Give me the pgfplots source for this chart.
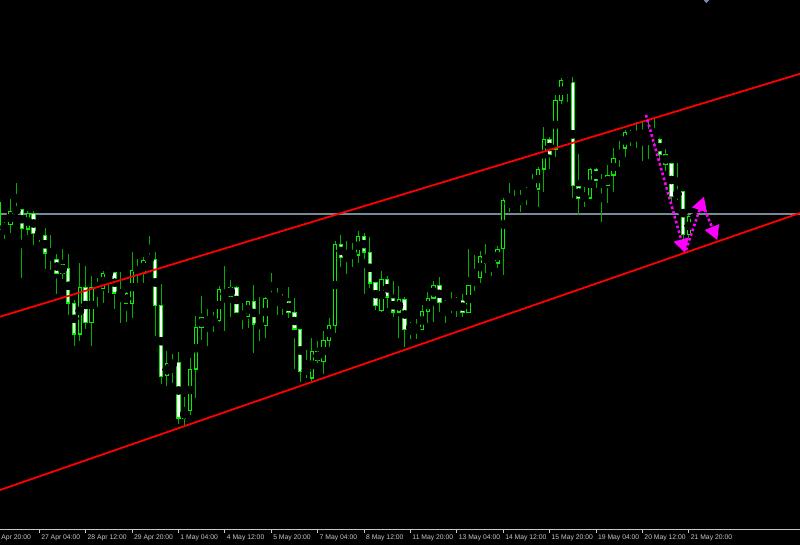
\documentclass[border=0pt]{standalone}
\usepackage{pgfplots}
\pgfplotsset{compat=1.18}
\usepackage{pgfplotstable}
\usepackage{fontspec}
\setmainfont{Liberation Sans}
\usetikzlibrary{arrows.meta}

\definecolor{wickgreen}{RGB}{0,175,0}
\definecolor{edgegreen}{RGB}{0,240,0}
\definecolor{level}{RGB}{119,136,153}
\definecolor{chan}{RGB}{255,0,0}
\definecolor{magarrow}{RGB}{255,0,255}
\definecolor{axisfg}{RGB}{200,200,200}
\definecolor{shiftmark}{RGB}{120,140,170}

% H4 bars, k = bar index; o h l c are read as screen rows (0 = top)
\pgfplotstableread{
k o h l c
-1 230 200 233 202
0 230.7 221.7 239 224.3
1 225 199 233.3 211
2 211.7 182.7 214 209.3
3 209.7 209.7 278.3 228.7
4 229.3 211.3 235.3 213.7
5 213.3 211.3 245 233.7
6 234 229.3 241.7 233
7 235.3 228.3 269 253.3
8 253.3 235 270 259.3
9 259.3 254 294 273.7
10 274 249.3 279 264.3
11 268.3 254.3 315 303.3
12 303.3 300 345.7 334.3
13 334.3 262.7 340.7 287.3
14 287.3 266.3 329.3 322.7
15 322.7 275.7 345.7 287.3
16 287 278.3 306.7 286
17 289 270.7 302.7 273.7
18 273.5 268.3 292.7 272.5
19 272 272 308.7 293.3
20 294 272.3 323.3 293
21 293.3 291.7 321.7 304
22 304 251.7 317.7 270.3
23 267.7 259 283.3 273.7
24 273.7 257 282.7 260.3
25 260.3 236 262 258.3
26 259.3 252.3 336 305.7
27 305.7 284.3 384 376.7
28 376 351 385.7 363.3
29 365.7 354.3 382.7 362.3
30 362.7 351.7 424 418.3
31 418.3 396.7 426 410
32 410.7 357.7 415 369.3
33 369.3 315.7 398.3 327.3
34 327.7 295.7 340 317.3
35 321.2 309 345.7 320.2
36 320.5 311.7 332.3 319.5
37 320.7 285.7 322 289.3
38 290 266 330.7 297.7
39 296.3 280 317.3 287.3
40 287.3 285.7 313 312.7
41 313.3 302.7 329.3 316.7
42 316.7 301 327.7 301.7
43 301.7 285 352.7 324.3
44 323.3 296.7 340.7 326
45 326 297 337.7 298
46 298.7 273.3 299.3 295.3
47 294.3 288.3 315 300
48 299 294.3 315 301.3
49 301 287.3 317.7 312.7
50 312.7 298.3 369.3 329.3
51 329.3 329 381.7 371.7
52 371.7 350 378.3 369.3
53 378.3 338.3 381 351
54 351 340.7 363.3 361
55 361.7 331 374.3 340
56 340.7 318.3 346.7 325.7
57 326 240.7 333.3 244
58 244 235 266.7 257.7
59 254.8 240.7 274.3 253.8
60 253.3 242.7 266.7 255.3
61 255.3 231 262.7 236
62 236 233.3 294 252.3
63 252.3 237.3 288.3 283.3
64 282.7 282.7 310 305.7
65 311 271 312.3 279.3
66 279.3 276 307.7 297.3
67 298.3 281 316.7 312.3
68 312.3 285.7 338.3 299
69 299 296.7 346.7 330
70 330.7 321.7 339.3 324.3
71 328.8 319.3 339.3 327.8
72 330 305 330 311
73 311.7 291.7 323.3 298.3
74 298.3 281 321.7 285
75 285 276.7 311.7 302.7
76 302.3 300 323.3 308.3
77 308.3 292.3 313.3 304.3
78 304.3 296.7 316.7 301
79 300.7 294.3 317.3 312.7
80 312.7 249.3 313.3 285.3
81 285 255.3 291 277.3
82 277.7 251 282.7 256.7
83 255 244.3 273.3 263.3
84 263.8 259.3 276 262.8
85 263.3 245.7 267.7 249
86 249 197.7 275 200
87 200 182.7 211.7 207.3
88 206.5 190 210.7 205.5
89 203.3 190 211.7 196
90 196.7 186.7 205 189
91 189.5 174 193.3 188.5
92 189.3 166.7 206.7 169
93 169.3 127.3 191.7 139.3
94 139.3 136.7 169.3 154.7
95 149.3 95 157.3 100
96 100.7 78.3 104.3 80.7
97 80.7 77.3 101.7 83.3
98 82.7 76.7 198.3 186
99 186 154.3 215 199
100 199 186.7 207.3 195
101 198.3 168.3 199 169.3
102 169.3 168.3 188.3 180.7
103 180.7 174 221.7 186.7
104 186 165 202.7 175
105 175.3 148.3 191.7 158.3
106 159 141 166.7 152.3
107 148.3 130 156.7 132.7
108 132.7 130 146 139
109 139 121.7 148.3 135
110 135.3 121.7 160.7 132.7
111 132.7 121.7 159.3 134.3
112 134.3 119 146 141.7
113 139.3 138.3 160 155
114 154.3 149.3 170.7 164.3
115 163.3 163.3 201.7 196.7
116 196.7 163.3 200 191.3
117 191.3 191.3 241.7 235
118 235 215 238.3 216.7
119 220 212.7 222 215
}\candles

\begin{document}
\begin{tikzpicture}
\fill[black] (0,0) rectangle (400pt,-272.5pt);
\begin{axis}[
    at={(0pt,0pt)}, anchor=north west,
    scale only axis,
    width=400pt, height=265pt,
    xmin=-0.776, xmax=137.16,
    ymin=15, ymax=545,
    clip mode=individual,
    axis line style={draw=none},
    ytick=\empty,
    xtick={6,14,...,118},
    xticklabels={27 Apr 04:00, 28 Apr 12:00, 29 Apr 20:00, 1 May 04:00,
        4 May 12:00, 5 May 20:00, 7 May 04:00, 8 May 12:00, 11 May 20:00,
        13 May 04:00, 14 May 12:00, 15 May 20:00, 19 May 04:00,
        20 May 12:00, 21 May 20:00},
    xtick pos=left,
    tick align=outside,
    major tick length=1.6pt,
    tick style={axisfg, line width=0.4pt},
    xticklabel style={anchor=north west, inner sep=0pt, xshift=0.8pt,
        yshift=-0.6pt, text=axisfg, font=\fontsize{3.4}{4}\selectfont},
]
% horizontal level
\addplot[level, line width=0.6pt] coordinates {(-0.776,331) (137.16,331)};

% wicks
\addplot[only marks, mark=none,
    error bars/.cd, y dir=both, y explicit, error mark=none,
    error bar style={draw=wickgreen, line width=0.55pt}]
    table[x=k, y expr={545-(\thisrow{h}+\thisrow{l})/2},
          y error expr={(\thisrow{l}-\thisrow{h})/2}] {\candles};
% body outlines
\addplot[only marks, mark=none,
    error bars/.cd, y dir=both, y explicit, error mark=none,
    error bar style={draw=edgegreen, line width=2.2pt}]
    table[x=k, y expr={545-(\thisrow{o}+\thisrow{c})/2},
          y error expr={abs(\thisrow{o}-\thisrow{c})/2 + 0.4}] {\candles};
% bull bodies: black inside
\addplot[only marks, mark=none,
    error bars/.cd, y dir=both, y explicit, error mark=none,
    error bar style={draw=black, line width=1.2pt}]
    table[x=k, y expr={545-(\thisrow{o}+\thisrow{c})/2},
          y error expr={\thisrow{c}<\thisrow{o} ? max(abs(\thisrow{o}-\thisrow{c})/2-0.8,0) : 0}] {\candles};
% bear bodies: white inside
\addplot[only marks, mark=none,
    error bars/.cd, y dir=both, y explicit, error mark=none,
    error bar style={draw=white, line width=1.2pt}]
    table[x=k, y expr={545-(\thisrow{o}+\thisrow{c})/2},
          y error expr={\thisrow{c}>\thisrow{o} ? max(abs(\thisrow{o}-\thisrow{c})/2-0.8,0) : 0}] {\candles};

% channel lines
\addplot[chan, line width=0.9pt] coordinates {(-0.776,228.3) (137.16,471.2)};
\addplot[chan, line width=0.9pt] coordinates {(-0.776,55) (137.16,332)};

% dotted arrows
\addplot[magarrow, line width=1.3pt, dash pattern=on 1.3pt off 1.2pt,
    -{Triangle[length=7pt, width=7.5pt]}]
    coordinates {(110.6,430) (117.33,292)};
\addplot[magarrow, line width=1.3pt, dash pattern=on 1.3pt off 1.2pt,
    -{Triangle[length=7pt, width=7.5pt]}]
    coordinates {(117.5,295) (120.6,348.3)};
\addplot[magarrow, line width=1.3pt, dash pattern=on 1.3pt off 1.2pt,
    -{Triangle[length=7pt, width=7.5pt]}]
    coordinates {(120.4,340) (122.9,305)};

% bottom axis line and the cut-off first label
\draw[axisfg, line width=0.5pt] (rel axis cs:0,0) -- (rel axis cs:1,0);
\node[anchor=north west, inner sep=0pt, text=axisfg,
    font=\fontsize{3.4}{4}\selectfont] at ([xshift=-0.7pt, yshift=-2.2pt]axis cs:-2,15) {26 Apr 20:00};
\end{axis}
% chart shift marker at the top edge
\fill[shiftmark] (351.8pt,0) -- (354.6pt,0) -- (353.2pt,-1.6pt) -- cycle;
\pgfresetboundingbox
\path[use as bounding box] (0,0) rectangle (400pt,-272.5pt);
\end{tikzpicture}
\end{document}
